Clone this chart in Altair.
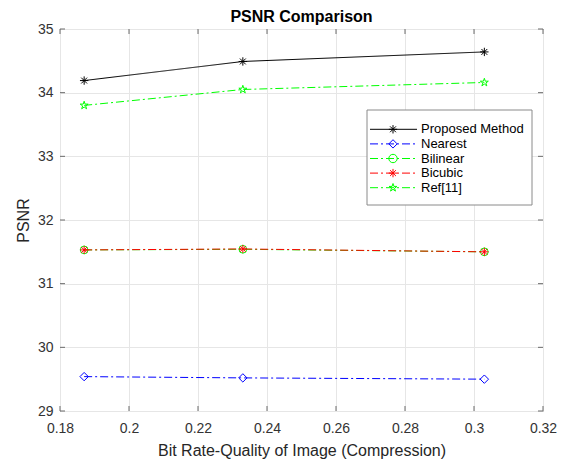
import altair as alt
import pandas as pd

# ---------------- data ----------------
bit_rate = [0.187, 0.233, 0.303]
series_names = ["Proposed Method", "Nearest", "Bilinear", "Bicubic", "Ref[11]"]
proposed = [34.19, 34.49, 34.64]
nearest = [29.54, 29.52, 29.50]
bilinear = [31.53, 31.54, 31.50]
bicubic = [31.53, 31.545, 31.50]
ref11 = [33.80, 34.05, 34.16]

x_ticks = [0.18, 0.20, 0.22, 0.24, 0.26, 0.28, 0.30, 0.32]
y_ticks = [29, 30, 31, 32, 33, 34, 35]

values = [proposed, nearest, bilinear, bicubic, ref11]

# ---------------- styles ----------------
FONT = "Liberation Sans"
ASTERISK = "M-1,0L1,0M0,-1L0,1M-0.7,-0.7L0.7,0.7M-0.7,0.7L0.7,-0.7"
STAR = ("M0,-1L0.2245,-0.309L0.951,-0.309L0.363,0.118L0.588,0.809L0,0.382"
        "L-0.588,0.809L-0.363,0.118L-0.951,-0.309L-0.2245,-0.309Z")
colors = ["#000000", "#0000ff", "#00ff00", "#ff0000", "#00ff00"]
dashes = [[1, 0], [8, 3, 2, 3], [8, 3, 2, 3], [8, 3, 2, 3], [8, 3, 2, 3]]
shapes = [ASTERISK, "diamond", "circle", ASTERISK, STAR]
sizes = [70, 70, 60, 70, 70]

W, H = 483, 382

rows = []
for name, ys in zip(series_names, values):
    for xv, yv in zip(bit_rate, ys):
        rows.append({"series": name, "x": xv, "y": yv})
df = pd.DataFrame(rows)

xscale = alt.Scale(domain=[0.18, 0.32], nice=False, zero=False)
yscale = alt.Scale(domain=[29, 35], nice=False, zero=False)

x_enc = alt.X("x:Q", scale=xscale,
              axis=alt.Axis(values=x_ticks, format=".2~f", title="Bit Rate-Quality of Image (Compression)",
                            grid=True))
y_enc = alt.Y("y:Q", scale=yscale,
              axis=alt.Axis(values=y_ticks, format="d", title="PSNR", grid=True))

series_layers = []
for i, name in enumerate(series_names):
    base = alt.Chart(df).transform_filter(alt.datum.series == name)
    line = base.mark_line(color=colors[i], strokeDash=dashes[i], strokeWidth=1).encode(x=x_enc, y=y_enc)
    pts = base.mark_point(shape=shapes[i], color=colors[i], size=sizes[i], filled=False,
                          strokeWidth=1, opacity=1).encode(x=x_enc, y=y_enc)
    series_layers += [line, pts]

# inner ticks (MATLAB style)
xt_df = pd.DataFrame({"x": x_ticks})
yt_df = pd.DataFrame({"y": y_ticks})
TICK = "#6a6a6a"
xt_bottom = alt.Chart(xt_df).mark_rule(color=TICK, strokeWidth=1).encode(
    x=alt.X("x:Q", scale=xscale), y=alt.value(H), y2=alt.value(H - 5))
xt_top = alt.Chart(xt_df).mark_rule(color=TICK, strokeWidth=1).encode(
    x=alt.X("x:Q", scale=xscale), y=alt.value(0), y2=alt.value(5))
yt_left = alt.Chart(yt_df).mark_rule(color=TICK, strokeWidth=1).encode(
    y=alt.Y("y:Q", scale=yscale), x=alt.value(0), x2=alt.value(5))
yt_right = alt.Chart(yt_df).mark_rule(color=TICK, strokeWidth=1).encode(
    y=alt.Y("y:Q", scale=yscale), x=alt.value(W), x2=alt.value(W - 5))

main = alt.layer(xt_bottom, xt_top, yt_left, yt_right, *series_layers)

# ---------------- manual legend ----------------
leg_df = pd.DataFrame({"name": series_names})
leg_y = alt.Y("name:N", sort=series_names, axis=None,
              scale=alt.Scale(type="point", domain=series_names, range=[93, 166]))
col_enc = alt.Color("name:N", scale=alt.Scale(domain=series_names, range=colors), legend=None)
dash_enc = alt.StrokeDash("name:N", scale=alt.Scale(domain=series_names, range=dashes), legend=None)
shape_enc = alt.Shape("name:N", scale=alt.Scale(domain=series_names, range=shapes), legend=None)
size_enc = alt.Size("name:N", scale=alt.Scale(domain=series_names, range=sizes), legend=None)

leg_box = alt.Chart(pd.DataFrame({"a": [0]})).mark_rect(
    fill="white", stroke="#8a8a8a", strokeWidth=1).encode(
    x=alt.value(307), x2=alt.value(472), y=alt.value(81), y2=alt.value(176))
leg_lines = alt.Chart(leg_df).mark_rule(strokeWidth=1).encode(
    x=alt.value(310), x2=alt.value(357), y=leg_y, color=col_enc, strokeDash=dash_enc)
leg_pts = alt.Chart(leg_df).mark_point(filled=False, strokeWidth=1, opacity=1).encode(
    x=alt.value(333), y=leg_y, color=col_enc, shape=shape_enc, size=size_enc)
leg_text = alt.Chart(leg_df).mark_text(align="left", baseline="middle", font=FONT,
                                       fontSize=13, color="#000000").encode(
    x=alt.value(361), y=leg_y, text="name:N")

legend = alt.layer(leg_box, leg_lines, leg_pts, leg_text).resolve_scale(
    color="independent", strokeDash="independent", shape="independent", size="independent")

chart = alt.layer(main, legend).resolve_scale(
    y="independent", color="independent", strokeDash="independent",
    shape="independent", size="independent"
).properties(
    width=W, height=H,
    title=alt.TitleParams("PSNR Comparison", font=FONT, fontSize=16, fontWeight="bold",
                          color="#000000", offset=6, anchor="middle", dy=9),
    autosize="none",
    padding={"left": 52, "top": 21, "right": 17, "bottom": 52},
).configure_view(
    stroke="#6a6a6a", strokeWidth=1
).configure_axis(
    domain=False, ticks=False, gridColor="#e6e6e6", gridWidth=1,
    labelFont=FONT, labelFontSize=14, labelColor="#333333", labelFlush=False,
    titleFont=FONT, titleFontSize=16, titleFontWeight="normal", titleColor="#262626",
).configure_axisX(
    labelPadding=10, titleBaseline="alphabetic", titleY=44
).configure_axisY(
    labelPadding=7, titleBaseline="alphabetic", titleX=-32
)

chart.save("out.html", embed_options={"renderer": "svg", "actions": False})
